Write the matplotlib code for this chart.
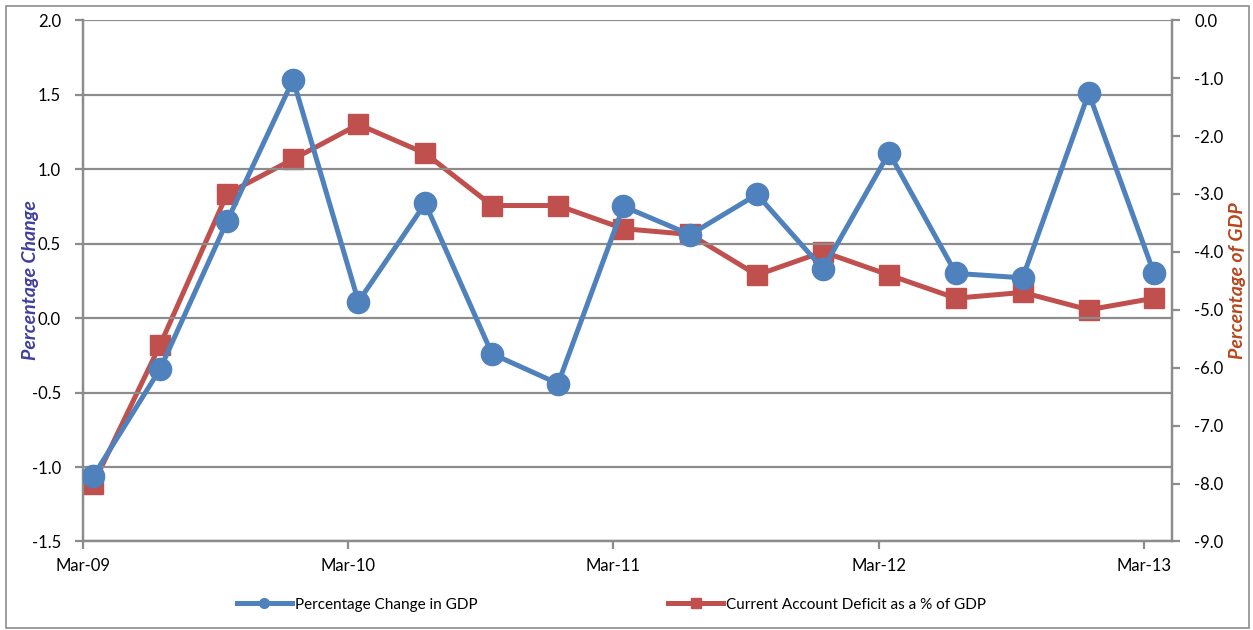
import numpy as np
import pandas as pd
import matplotlib
matplotlib.use("Agg")
import matplotlib.pyplot as plt
import matplotlib.dates as mdates
from matplotlib.lines import Line2D
from matplotlib.patches import Rectangle

# data (quarterly, Mar-09 .. Mar-13)
dates = pd.date_range("2009-03-01", periods=17, freq="3MS") + pd.Timedelta(days=14)
gdp_change = [-1.06, -0.34, 0.65, 1.60, 0.11, 0.77, -0.24, -0.44, 0.75,
              0.56, 0.83, 0.33, 1.11, 0.30, 0.27, 1.51, 0.30]
ca_deficit = [-8.0, -5.6, -3.0, -2.4, -1.8, -2.3, -3.2, -3.2, -3.6,
              -3.7, -4.4, -4.0, -4.4, -4.8, -4.7, -5.0, -4.8]
left_ticks = [-1.5, -1.0, -0.5, 0.0, 0.5, 1.0, 1.5, 2.0]
right_ticks = [-9.0, -8.0, -7.0, -6.0, -5.0, -4.0, -3.0, -2.0, -1.0, 0.0]

blue = "#4F81BD"
red = "#C0504D"
grey = "#8C8C8C"
font = ["Lato", "DejaVu Sans"]
plt.rcParams["font.family"] = font

fig = plt.figure(figsize=(12.53, 6.30), dpi=100)
ax = fig.add_axes([0.0665, 0.1405, 0.869, 0.8275])
ax2 = ax.twinx()

ax.plot(dates, gdp_change, color=blue, lw=3.6, marker="o", ms=16, zorder=3)
ax2.plot(dates, ca_deficit, color=red, lw=3.6, marker="s", ms=14, zorder=3)

ax.set_ylim(-1.5, 2.0)
ax.set_yticks(left_ticks)
ax.set_yticklabels([f"{v:.1f}" for v in left_ticks])
ax2.set_ylim(-9.0, 0.0)
ax2.set_yticks(right_ticks)
ax2.set_yticklabels([f"{v:.1f}" for v in right_ticks])

ax.set_xlim(pd.Timestamp("2009-03-01"), pd.Timestamp("2013-04-09"))
ax.xaxis.set_major_locator(mdates.MonthLocator(bymonth=3, bymonthday=1))
ax.xaxis.set_major_formatter(mdates.DateFormatter("%b-%y"))

ax.grid(axis="y", color=grey, lw=1.6)
ax.set_axisbelow(True)
ax.set_zorder(ax2.get_zorder() + 1)
ax.patch.set_visible(False)

for a in (ax, ax2):
    a.spines["top"].set_visible(False)
    for s in ("left", "right", "bottom"):
        a.spines[s].set_color(grey)
        a.spines[s].set_linewidth(1.6)
    a.tick_params(axis="both", colors=grey, width=1.6, length=6,
                  labelsize=12, labelcolor="black")
ax.tick_params(axis="x", pad=6)
ax.tick_params(axis="y", pad=10)
ax2.tick_params(axis="y", pad=10)

fig.text(0.024, 0.555, "Percentage Change", rotation=90, color="#3F3FA0",
         fontsize=14, fontweight="bold", style="italic", ha="center", va="center")
fig.text(0.988, 0.555, "Percentage of GDP", rotation=90, color="#B9461C",
         fontsize=14, fontweight="bold", style="italic", ha="center", va="center")

handles = [Line2D([], [], color=blue, lw=3.6, marker="o", ms=7),
           Line2D([], [], color=red, lw=3.6, marker="s", ms=7)]
fig.legend(handles, ["Percentage Change in GDP", "Current Account Deficit as a % of GDP"],
           loc="center", bbox_to_anchor=(0.488, 0.04), ncol=2, frameon=False,
           fontsize=11, handlelength=3.6, columnspacing=12.5, handletextpad=0.2)

fig.patches.append(Rectangle((0.005, 0.003), 0.992, 0.987, transform=fig.transFigure,
                             fill=False, edgecolor=grey, lw=1.2))

fig.savefig("out.png", dpi=100)
